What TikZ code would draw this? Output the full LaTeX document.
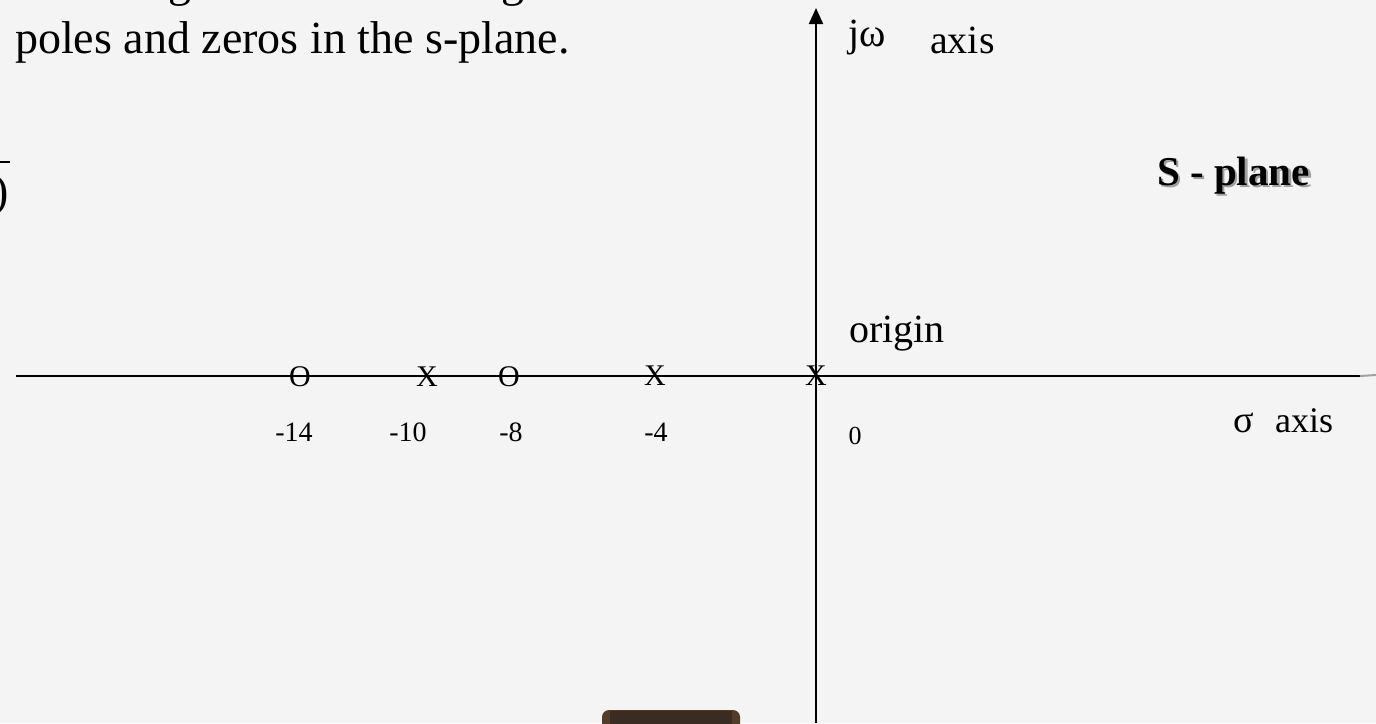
\documentclass[tikz,border=0pt]{standalone}
\usepackage{fontspec}
\setmainfont{Liberation Serif}
\usetikzlibrary{arrows.meta}
\definecolor{bgcol}{RGB}{244,244,244}
\definecolor{pillcol}{RGB}{58,44,34}
\definecolor{pillend}{RGB}{84,60,42}
\definecolor{shadowcol}{RGB}{160,160,160}
\begin{document}
\begin{tikzpicture}[x=1pt,y=-1pt,
  txt/.style={inner sep=0pt, anchor=base west, font=\fontsize{40}{44}\selectfont},
  bigtxt/.style={inner sep=0pt, anchor=base west, font=\fontsize{46}{50}\selectfont},
  pzmark/.style={inner sep=0pt, font=\fontsize{30}{32}\selectfont},
  ticklab/.style={inner sep=0pt, font=\fontsize{28}{30}\selectfont},
  axisline/.style={line width=2pt, black}]
\fill[bgcol] (0,0) rectangle (1376,723);
\useasboundingbox (0,0) rectangle (1376,723);
\clip (0,0) rectangle (1376,723);

% title text (partly cut line above)
\node[bigtxt] (title) at (15,53) {poles and zeros in the s-plane.};
\node[bigtxt, anchor=base] (g1) at (180,-4) {g};
\node[bigtxt, anchor=base] (g2) at (513,-4) {g};

% left edge fragments
\coordinate (fb0) at (0,162);
\coordinate (fb1) at (10,162);
\draw[line width=1.2pt] (fb0) -- (fb1);
\node[bigtxt, anchor=base east] (paren) at (9,206) {)};

% axes
\coordinate (hx0) at (16,376);
\coordinate (hx1) at (1360,376);
\coordinate (hx2) at (1376,375);
\draw[axisline] (hx0) -- (hx1);
\draw[line width=2pt, shadowcol] (hx1) -- (hx2);
\coordinate (vy0) at (816,723);
\coordinate (vy1) at (816,8);
\draw[axisline, -{Triangle[length=16pt,width=14pt]}] (vy0) -- (vy1);

% poles and zeros
\node[pzmark] (z14) at (300,377) {O};
\node[pzmark] (p10) at (427,377) {X};
\node[pzmark] (z8) at (509,377) {O};
\node[pzmark] (p4) at (655,376) {X};
\node[pzmark] (p0) at (816,376) {X};

% tick labels
\node[ticklab] (l14) at (294,432) {-14};
\node[ticklab] (l10) at (408,432) {-10};
\node[ticklab] (l8) at (511,432) {-8};
\node[ticklab] (l4) at (656,432) {-4};
\node[ticklab, font=\fontsize{26}{28}\selectfont] (l0) at (855,436) {0};

% axis labels
\node[txt] (orig) at (849,342) {origin};
\node[txt] (jw) at (848,46) {jω};
\node[txt] (jwax) at (930,53) {axis};
\node[txt, font=\fontsize{38}{40}\selectfont] (sig) at (1233,432) {σ};
\node[txt, font=\fontsize{36}{40}\selectfont] (sigax) at (1275,432) {axis};

% S - plane with shadow
\node[txt, font=\fontsize{41}{44}\selectfont\bfseries, text=shadowcol] (splsh) at (1159.5,187.5) {S - plane};
\node[txt, font=\fontsize{41}{44}\selectfont\bfseries] (spl) at (1157,185) {S - plane};

% brown bar at bottom
\fill[pillend, rounded corners=7pt] (602,710) rectangle (740,736);
\fill[pillcol] (610,710.5) rectangle (732,736);
\end{tikzpicture}
\end{document}
